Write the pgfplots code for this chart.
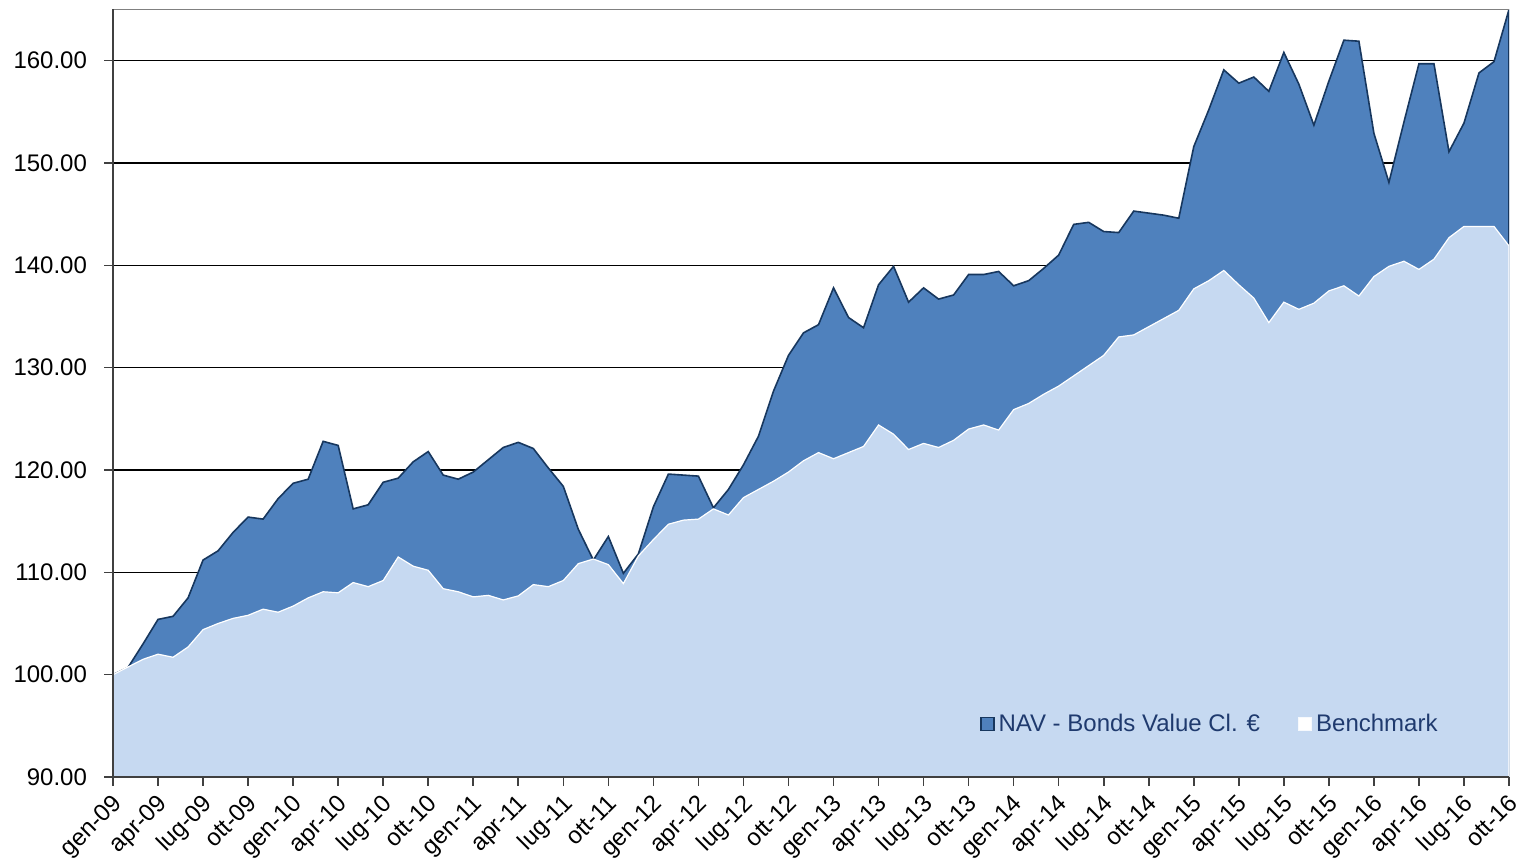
\documentclass[border=0pt]{standalone}
\usepackage{pgfplots}
\usepackage{pgfplotstable}
\pgfplotsset{compat=1.18}
\usepackage{fontspec}
\setmainfont{Liberation Sans}

\definecolor{navfill}{HTML}{4F81BD}
\definecolor{navline}{HTML}{17375E}
\definecolor{benchfill}{HTML}{C6D9F1}
\definecolor{legtext}{HTML}{1F3A6E}
\definecolor{axgray}{HTML}{404040}

% month index (0 = gen-09), NAV, benchmark
\pgfplotstableread{
m nav bench
0 100.0 100.0
1 100.7 100.75
2 103.0 101.5
3 105.4 102.0
4 105.7 101.7
5 107.5 102.7
6 111.2 104.4
7 112.1 105.0
8 113.9 105.5
9 115.4 105.8
10 115.2 106.4
11 117.2 106.1
12 118.7 106.7
13 119.1 107.5
14 122.8 108.1
15 122.4 108.0
16 116.2 109.0
17 116.6 108.6
18 118.8 109.2
19 119.2 111.5
20 120.8 110.6
21 121.8 110.2
22 119.5 108.4
23 119.1 108.1
24 119.8 107.6
25 121.0 107.75
26 122.2 107.3
27 122.7 107.7
28 122.1 108.8
29 120.2 108.6
30 118.4 109.2
31 114.2 110.85
32 111.2 111.3
33 113.5 110.75
34 109.9 108.9
35 111.8 111.6
36 116.4 113.2
37 119.6 114.7
38 119.5 115.1
39 119.4 115.2
40 116.3 116.2
41 118.1 115.6
42 120.5 117.3
43 123.3 118.1
44 127.7 118.9
45 131.2 119.8
46 133.4 120.9
47 134.2 121.7
48 137.8 121.1
49 134.9 121.7
50 133.9 122.3
51 138.1 124.4
52 139.9 123.5
53 136.4 122.0
54 137.8 122.6
55 136.7 122.2
56 137.1 122.9
57 139.1 124.0
58 139.1 124.4
59 139.4 123.9
60 138.0 125.9
61 138.5 126.5
62 139.7 127.4
63 141.0 128.2
64 144.0 129.2
65 144.2 130.2
66 143.3 131.2
67 143.2 133.0
68 145.3 133.2
69 145.1 134.0
70 144.9 134.8
71 144.6 135.6
72 151.6 137.7
73 155.2 138.5
74 159.1 139.5
75 157.8 138.1
76 158.4 136.8
77 157.0 134.4
78 160.8 136.4
79 157.7 135.7
80 153.7 136.3
81 158.0 137.5
82 162.0 138.0
83 161.9 137.0
84 152.9 138.9
85 148.1 139.9
86 154.0 140.4
87 159.7 139.6
88 159.7 140.6
89 151.1 142.7
90 153.9 143.8
91 158.8 143.8
92 159.9 143.8
93 165.0 141.9
}\perf

\begin{document}
\begin{tikzpicture}
\begin{axis}[
  name=ax,
  width=698pt, height=383.75pt, scale only axis,
  xmin=0, xmax=93, ymin=90, ymax=165,
  axis x line*=bottom, axis y line*=left,
  axis line style={axgray, line width=1pt},
  tick align=outside,
  major tick length=4.5pt,
  tick style={axgray, line width=0.8pt},
  xtick={0,3,...,93},
  xticklabels={gen-09,apr-09,lug-09,ott-09,gen-10,apr-10,lug-10,ott-10,
    gen-11,apr-11,lug-11,ott-11,gen-12,apr-12,lug-12,ott-12,
    gen-13,apr-13,lug-13,ott-13,gen-14,apr-14,lug-14,ott-14,
    gen-15,apr-15,lug-15,ott-15,gen-16,apr-16,lug-16,ott-16},
  xticklabel style={rotate=45, anchor=north east, inner sep=0.5pt,
    xshift=-2.5pt, yshift=-1pt,
    font=\fontsize{12}{14}\selectfont},
  ytick={90,100,...,160},
  yticklabel style={font=\fontsize{12}{14}\selectfont, xshift=-5pt,
    /pgf/number format/fixed, /pgf/number format/fixed zerofill,
    /pgf/number format/precision=2},
  /pgf/number format/assume math mode=true,
  ymajorgrids,
  major grid style={black, line width=0.6pt},
  legend columns=2,
  legend cell align=left,
  legend style={at={(0.621,0.069)}, anchor=west, draw=none, fill=none,
    inner sep=0pt, font=\fontsize{12}{14}\selectfont, text=legtext,
    /tikz/every even column/.append style={column sep=17pt}},
]
\addplot[fill=navfill, draw=navline, line width=0.8pt,
  legend image code/.code={\draw[fill=navfill, draw=navline, line width=0.6pt]
    (0pt,-3.2pt) rectangle (6.5pt,3.2pt);}]
  table[x=m, y=nav] {\perf} \closedcycle;
\addlegendentry{NAV - Bonds Value Cl. €}
\addplot[fill=benchfill, draw=white, line width=0.6pt,
  legend image code/.code={\draw[fill=white, draw=white!85!benchfill, line width=0.6pt]
    (0pt,-3.2pt) rectangle (6.5pt,3.2pt);}]
  table[x=m, y=bench] {\perf} \closedcycle;
\addlegendentry{Benchmark}
\draw[gray, line width=0.8pt] (rel axis cs:0,1) -- (rel axis cs:1,1);
\draw[axgray, line width=1pt] (rel axis cs:0,1) -- (rel axis cs:0,0) -- (rel axis cs:1,0);
\end{axis}
\pgfresetboundingbox
\useasboundingbox ([xshift=-56.5pt,yshift=-43pt]ax.south west)
  rectangle ([xshift=5pt,yshift=4.75pt]ax.north east);
\end{tikzpicture}
\end{document}
